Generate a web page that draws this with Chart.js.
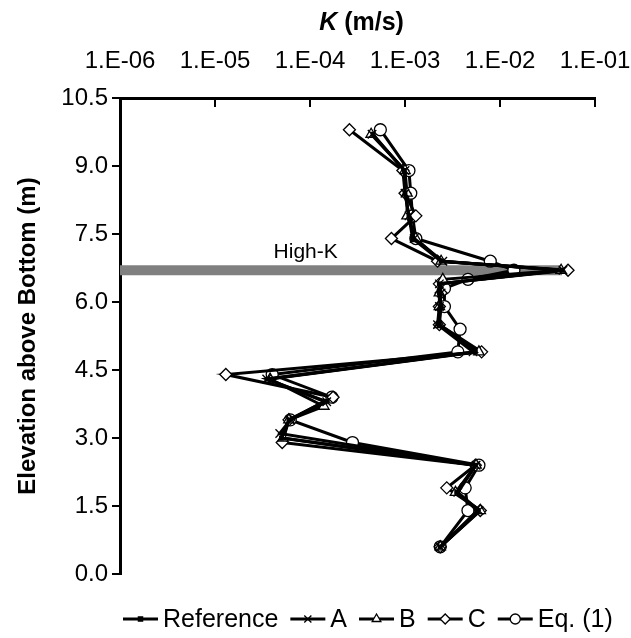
<!DOCTYPE html>
<html>
<head>
<meta charset="utf-8">
<script src="https://cdn.jsdelivr.net/npm/chart.js@4"></script>
<style>
  html, body { margin: 0; padding: 0; background: #fff; }
  #wrap { width: 631px; height: 638px; }
</style>
</head>
<body>
<div id="wrap"><canvas id="chart" width="631" height="638"></canvas></div>
<script>
// elevation (m) and hydraulic conductivity K (m/s)
const elevRef = [9.7, 8.9, 8.4, 7.9, 7.4, 6.9, 6.7, 6.4, 6.2, 5.9, 5.5, 4.9, 4.3, 3.8, 3.4, 3.0, 2.4, 1.8, 1.4, 0.6];
const kRef = [4.6e-4, 9.8e-4, 1.0e-3, 1.1e-3, 1.2e-3, 2.4e-3, 4.5e-2, 2.3e-3, 2.3e-3, 2.4e-3, 2.3e-3, 5.5e-3, 3.6e-5, 1.45e-4, 6.0e-5, 5.0e-5, 5.5e-3, 3.5e-3, 5.8e-3, 2.35e-3];

const elevA = [9.7, 8.9, 8.4, 7.9, 7.4, 6.9, 6.7, 6.4, 6.2, 5.9, 5.5, 4.9, 4.3, 3.8, 3.4, 3.1, 2.4, 1.8, 1.4, 0.6];
const kA = [4.5e-4, 1.0e-3, 1.0e-3, 1.1e-3, 1.25e-3, 2.5e-3, 4.6e-2, 2.3e-3, 2.4e-3, 2.3e-3, 2.2e-3, 5.2e-3, 3.5e-5, 1.5e-4, 6.2e-5, 4.8e-5, 5.6e-3, 3.6e-3, 6.0e-3, 2.35e-3];

const elevB = [9.7, 8.9, 8.4, 7.9, 7.4, 6.9, 6.7, 6.5, 6.2, 5.9, 5.5, 4.9, 4.3, 3.7, 3.4, 3.0, 2.4, 1.8, 1.4, 0.6];
const kB = [4.4e-4, 1.0e-3, 1.05e-3, 1.05e-3, 1.3e-3, 2.4e-3, 4.4e-2, 2.5e-3, 2.3e-3, 2.3e-3, 2.3e-3, 6.0e-3, 3.8e-5, 1.4e-4, 6.0e-5, 5.2e-5, 5.6e-3, 3.4e-3, 6.2e-3, 2.35e-3];

const elevC = [9.8, 8.9, 8.4, 7.9, 7.4, 6.9, 6.7, 6.4, 6.2, 5.9, 5.5, 4.9, 4.4, 3.9, 3.4, 2.9, 2.4, 1.9, 1.4, 0.6];
const kC = [2.6e-4, 9.5e-4, 1.0e-3, 1.3e-3, 7.2e-4, 2.2e-3, 5.2e-2, 2.3e-3, 2.4e-3, 2.3e-3, 2.3e-3, 6.4e-3, 1.3e-5, 1.75e-4, 6.0e-5, 5.1e-5, 5.5e-3, 2.75e-3, 6.2e-3, 2.35e-3];

const elevEq = [9.8, 8.9, 8.4, 7.9, 7.4, 6.9, 6.7, 6.5, 6.3, 5.9, 5.4, 4.9, 4.4, 3.9, 3.4, 2.9, 2.4, 1.9, 1.4, 0.6];
const kEq = [5.5e-4, 1.1e-3, 1.15e-3, 1.2e-3, 1.3e-3, 7.9e-3, 1.4e-2, 4.6e-3, 2.6e-3, 2.6e-3, 3.8e-3, 3.6e-3, 4.0e-5, 1.7e-4, 6.2e-5, 2.8e-4, 6.0e-3, 4.3e-3, 4.6e-3, 2.35e-3];

// high-K zone
const bandElev = 6.7;
const bandK = [1e-6, 4.5e-2];

const seriesNames = ['Reference', 'A', 'B', 'C', 'Eq. (1)'];
const xTicks = [1e-6, 1e-5, 1e-4, 1e-3, 1e-2, 1e-1];

const FONT = "'Liberation Sans', Arial, sans-serif";

function pts(elev, k) {
    return elev.map((e, i) => ({ x: k[i], y: e }));
}

function tickLabel(v) {
    const exp = Math.round(Math.log10(v));
    const s = String(Math.abs(exp)).padStart(2, '0');
    return '1.E' + (exp < 0 ? '-' : '+') + s;
}

const markers = [
    { style: 'rect', radius: 2.5, fill: '#000' },
    { style: 'crossRot', radius: 6, fill: '#fff' },
    { style: 'triangle', radius: 6, fill: '#fff' },
    { style: 'rectRot', radius: 6, fill: '#fff' },
    { style: 'circle', radius: 6, fill: '#fff' }
];

const seriesData = [
    pts(elevRef, kRef),
    pts(elevA, kA),
    pts(elevB, kB),
    pts(elevC, kC),
    pts(elevEq, kEq)
];

const datasets = seriesData.map((d, i) => ({
    label: seriesNames[i],
    data: d,
    borderColor: '#000',
    borderWidth: 3,
    pointStyle: markers[i].style,
    pointRadius: markers[i].radius,
    pointBackgroundColor: markers[i].fill,
    pointBorderColor: '#000',
    pointBorderWidth: 1.3,
    tension: 0,
    fill: false,
    order: 0
}));

datasets.push({
    label: 'High-K',
    data: bandK.map(k => ({ x: k, y: bandElev })),
    borderColor: '#808080',
    borderWidth: 10,
    borderCapStyle: 'butt',
    pointRadius: 0,
    fill: false,
    order: 1
});

const extras = {
    id: 'extras',
    afterDraw(chart) {
        const ctx = chart.ctx;
        const xs = chart.scales.x;
        const ys = chart.scales.y;
        const area = chart.chartArea;
        ctx.save();
        // tick marks pointing into the plot from the top axis
        ctx.strokeStyle = '#000';
        ctx.lineWidth = 2;
        xTicks.forEach(v => {
            const px = Math.round(xs.getPixelForValue(v));
            ctx.beginPath();
            ctx.moveTo(px, area.top);
            ctx.lineTo(px, area.top + 9);
            ctx.stroke();
        });
        // axis title K (m/s), K in italic
        ctx.fillStyle = '#000';
        ctx.textBaseline = 'middle';
        const f1 = 'italic bold 25px ' + FONT;
        const f2 = 'bold 25px ' + FONT;
        ctx.font = f1;
        const w1 = ctx.measureText('K').width;
        ctx.font = f2;
        const w2 = ctx.measureText(' (m/s)').width;
        const cx = (area.left + area.right) / 2 + 4;
        const x0 = cx - (w1 + w2) / 2;
        ctx.font = f1;
        ctx.textAlign = 'left';
        ctx.fillText('K', x0, 23);
        ctx.font = f2;
        ctx.fillText(' (m/s)', x0 + w1, 23);
        // band label
        ctx.font = '21px ' + FONT;
        ctx.textAlign = 'center';
        ctx.fillText('High-K', xs.getPixelForValue(9e-5), ys.getPixelForValue(7.1));

        // legend: line with marker, then name
        ctx.font = '25px ' + FONT;
        ctx.textAlign = 'left';
        const ly = 619;
        let lx = 123;
        seriesNames.forEach((name, i) => {
            const m = markers[i];
            ctx.strokeStyle = '#000';
            ctx.lineWidth = 3;
            ctx.beginPath();
            ctx.moveTo(lx, ly);
            ctx.lineTo(lx + 35, ly);
            ctx.stroke();
            ctx.lineWidth = 1.3;
            ctx.fillStyle = m.fill;
            Chart.helpers.drawPoint(ctx, { pointStyle: m.style, radius: i === 0 ? 3 : 5, rotation: 0, borderWidth: 1.3 }, lx + 17.5, ly);
            ctx.fillStyle = '#000';
            ctx.fillText(name, lx + 40, ly + 1);
            lx += 40 + ctx.measureText(name).width + 12;
        });
        ctx.restore();
    }
};

new Chart(document.getElementById('chart'), {
    type: 'line',
    data: { datasets: datasets },
    options: {
        responsive: false,
        animation: false,
        layout: { padding: { left: 0, right: 36, top: 0, bottom: 64 } },
        scales: {
            x: {
                type: 'logarithmic',
                position: 'top',
                min: 1e-6,
                max: 1e-1,
                afterBuildTicks: s => { s.ticks = xTicks.map(v => ({ value: v })); },
                afterFit: s => { s.height = 98; s.paddingLeft = 0; s.paddingRight = 0; },
                grid: { display: false },
                border: { display: true, color: '#000', width: 3 },
                ticks: {
                    color: '#000',
                    font: { family: FONT, size: 24 },
                    padding: 14,
                    maxRotation: 0,
                    autoSkip: false,
                    callback: v => tickLabel(v)
                }
            },
            y: {
                type: 'linear',
                min: 0,
                max: 10.5,
                afterFit: s => { s.width = 120; },
                grid: { drawOnChartArea: false, color: '#000', lineWidth: 2, tickLength: 8 },
                border: { display: true, color: '#000', width: 3 },
                ticks: {
                    stepSize: 1.5,
                    color: '#000',
                    font: { family: FONT, size: 24 },
                    padding: 4,
                    callback: v => v.toFixed(1)
                },
                title: {
                    display: true,
                    text: 'Elevation above Bottom (m)',
                    color: '#000',
                    font: { family: FONT, size: 24, weight: 'bold' },
                    padding: { top: 14, bottom: 4 }
                }
            }
        },
        plugins: {
            legend: { display: false },
            tooltip: { enabled: false }
        }
    },
    plugins: [extras]
});
</script>
</body>
</html>
